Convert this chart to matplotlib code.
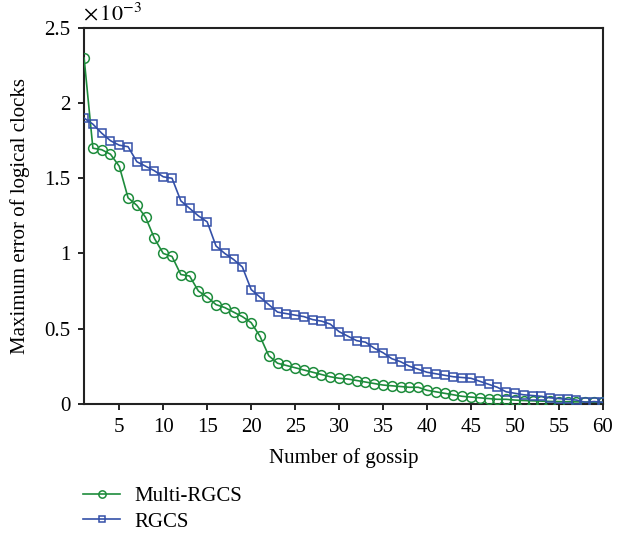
import matplotlib.pyplot as plt
import numpy as np

#%% Data (values in units of 1e-3)
gossip = np.arange(1, 61)

multi_rgcs = [2.30, 1.70, 1.69, 1.66, 1.58, 1.37, 1.32, 1.24, 1.10, 1.00,
              0.98, 0.86, 0.85, 0.75, 0.71, 0.66, 0.64, 0.61, 0.58, 0.54,
              0.45, 0.32, 0.27, 0.255, 0.24, 0.225, 0.21, 0.195, 0.18, 0.17,
              0.165, 0.155, 0.145, 0.135, 0.125, 0.12, 0.115, 0.11, 0.11, 0.09,
              0.08, 0.07, 0.06, 0.05, 0.045, 0.04, 0.035, 0.03, 0.03, 0.025,
              0.022, 0.02, 0.018, 0.016, 0.015, 0.014, 0.013, 0.012, 0.011, 0.01]

rgcs = [1.90, 1.86, 1.80, 1.75, 1.72, 1.71, 1.61, 1.58, 1.55, 1.51,
        1.50, 1.35, 1.30, 1.25, 1.21, 1.05, 1.00, 0.96, 0.91, 0.76,
        0.71, 0.66, 0.61, 0.60, 0.59, 0.58, 0.56, 0.55, 0.53, 0.48,
        0.45, 0.42, 0.41, 0.37, 0.34, 0.30, 0.28, 0.25, 0.23, 0.21,
        0.20, 0.19, 0.18, 0.175, 0.17, 0.15, 0.13, 0.11, 0.08, 0.07,
        0.06, 0.055, 0.05, 0.04, 0.035, 0.03, 0.025, 0.01, 0.015, 0.01]

xticks = [5, 10, 15, 20, 25, 30, 35, 40, 45, 50, 55, 60]
yticks = [0, 0.5, 1, 1.5, 2, 2.5]
ytick_labels = ['0', '0.5', '1', '1.5', '2', '2.5']

#%% Plot
plt.rcParams['font.family'] = ['Liberation Serif', 'DejaVu Serif']
plt.rcParams['mathtext.fontset'] = 'stix'

fig = plt.figure(figsize=(6.42, 5.37), dpi=100)
ax = fig.add_axes([0.131, 0.248, 0.808, 0.700])

green = '#1e8c3c'
blue = '#3450a8'

l1, = ax.plot(gossip, multi_rgcs, '-o', color=green, lw=1.2, ms=7,
              mfc='none', mec=green, mew=1.1, label='Multi-RGCS', zorder=3)
l2, = ax.plot(gossip, rgcs, '-s', color=blue, lw=1.2, ms=6,
              mfc='none', mec=blue, mew=1.1, label='RGCS', zorder=4)

ax.set_xlim(1, 60)
ax.set_ylim(0, 2.5)
ax.set_xticks(xticks)
ax.set_yticks(yticks)
ax.set_yticklabels(ytick_labels)
ax.tick_params(direction='out', length=4, width=1.2, labelsize=15, pad=6,
               top=False, right=False)
for s in ax.spines.values():
    s.set_linewidth(1.5)
    s.set_color('#222222')

ax.set_xlabel('Number of gossip', fontsize=15, labelpad=8)
ax.set_ylabel('Maximum error of logical clocks', fontsize=15, labelpad=10)
ax.text(-0.003, 1.008, r'$\times\,10^{-3}$', transform=ax.transAxes, fontsize=16,
        ha='left', va='bottom')

fig.legend(handles=[l1, l2], loc='upper left', bbox_to_anchor=(0.117, 0.11),
           frameon=False, fontsize=15, handlelength=1.75, markerscale=0.75,
           labelspacing=0.3, borderaxespad=0, handletextpad=0.7)

fig.savefig('out.png', dpi=100)
